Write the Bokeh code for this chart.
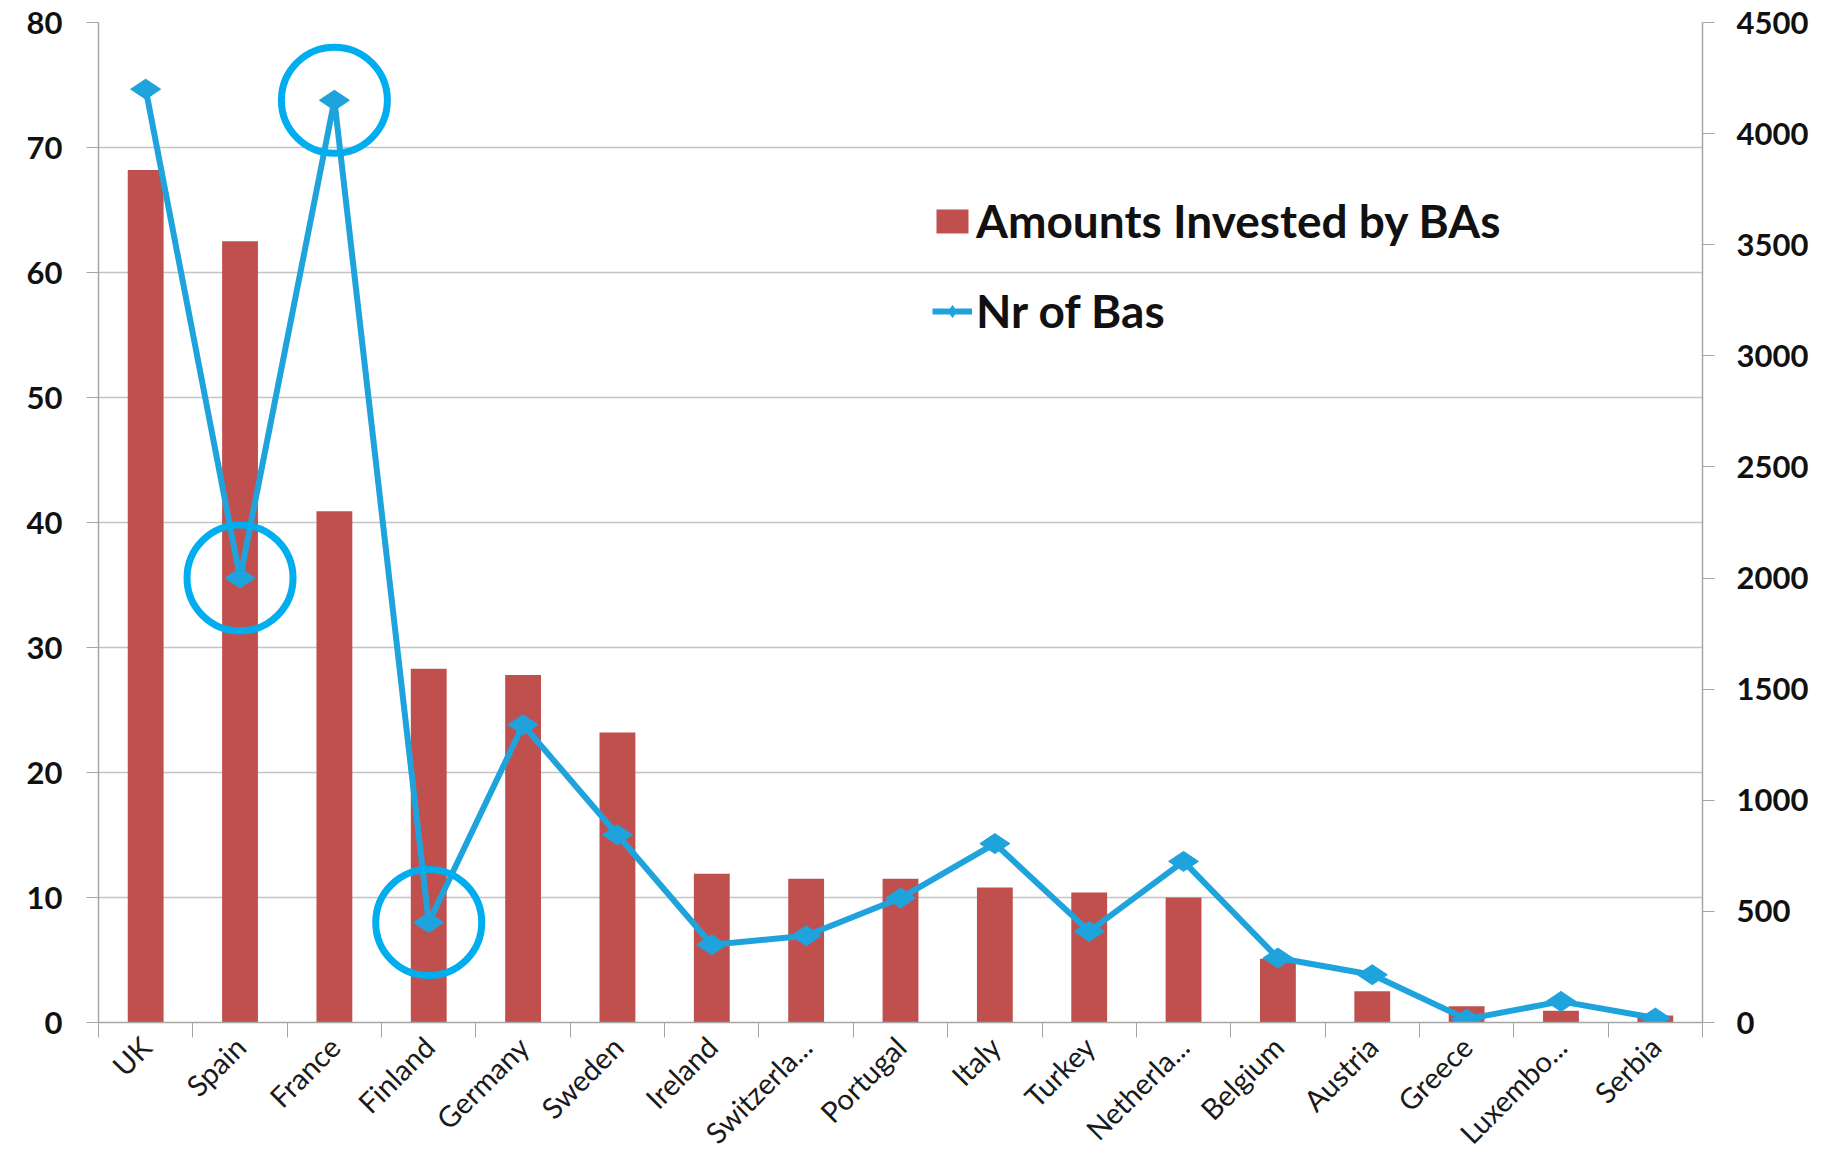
import math
from bokeh.plotting import figure
from bokeh.models import (Range1d, LinearAxis, FixedTicker, Legend, LegendItem,
                          ColumnDataSource)
from bokeh.embed import file_html
from bokeh.resources import INLINE

# ---------------- data ----------------
categories = ["UK", "Spain", "France", "Finland", "Germany", "Sweden", "Ireland",
              "Switzerla...", "Portugal", "Italy", "Turkey", "Netherla...",
              "Belgium", "Austria", "Greece", "Luxembo...", "Serbia"]
amounts = [68.2, 62.5, 40.9, 28.3, 27.8, 23.2, 11.9, 11.5, 11.5, 10.8, 10.4,
           10.0, 5.1, 2.5, 1.3, 0.95, 0.56]
nr_bas = [4200, 2000, 4150, 450, 1340, 845, 350, 390, 560, 805, 410, 725,
          290, 215, 15, 95, 20]
highlighted = ["Spain", "France", "Finland"]
left_ticks = [0, 10, 20, 30, 40, 50, 60, 70, 80]
right_ticks = [0, 500, 1000, 1500, 2000, 2500, 3000, 3500, 4000, 4500]
series_names = ["Amounts Invested by BAs", "Nr of Bas"]

# ---------------- styles ----------------
BAR = "#C0504D"
LINE = "#1FA3DD"
CIRC = "#00AEEF"
GRID = "#C4C4C4"
AXIS = "#A6A6A6"
FONT = "Lato"

idx = list(range(len(categories)))
src = ColumnDataSource(dict(x=idx, amt=amounts, nr=nr_bas))
hx = [categories.index(c) for c in highlighted]
hsrc = ColumnDataSource(dict(x=hx, nr=[nr_bas[i] for i in hx]))

p = figure(width=1832, height=1165,
           x_range=Range1d(-0.5, len(categories) - 0.5),
           y_range=Range1d(left_ticks[0], left_ticks[-1]),
           output_backend="svg", toolbar_location=None,
           min_border_left=98, min_border_right=130,
           min_border_top=22, min_border_bottom=132)
p.extra_y_ranges = {"right": Range1d(right_ticks[0], right_ticks[-1])}
p.outline_line_color = None
p.background_fill_color = "white"
p.border_fill_color = "white"

bars = p.vbar(x="x", top="amt", width=0.38, source=src,
              fill_color=BAR, line_color=None)
line = p.line(x="x", y="nr", source=src, y_range_name="right",
              line_color=LINE, line_width=6)
marks = p.scatter(x="x", y="nr", source=src, y_range_name="right",
                  marker="diamond", angle=math.pi / 2, size=30,
                  fill_color=LINE, line_color=LINE)
p.scatter(x="x", y="nr", source=hsrc, y_range_name="right",
          marker="circle", size=106, fill_color=None,
          line_color=CIRC, line_width=7)

# x axis: labels at category centres, ticks between categories
xa = p.xaxis[0]
xa.ticker = FixedTicker(ticks=idx,
                        minor_ticks=[i - 0.5 for i in range(len(categories) + 1)])
xa.major_label_overrides = {i: c for i, c in zip(idx, categories)}
xa.major_label_orientation = math.pi / 4
xa.major_tick_out = 0
xa.major_tick_in = 0
xa.minor_tick_out = 15
xa.minor_tick_in = 0
xa.minor_tick_line_color = AXIS
xa.axis_line_color = AXIS
xa.axis_line_width = 1.5
xa.major_label_standoff = 4
xa.major_label_text_font = FONT
xa.major_label_text_font_size = "29px"
xa.major_label_text_color = "#1a1a1a"

# left axis
ya = p.yaxis[0]
ya.ticker = FixedTicker(ticks=left_ticks)
ya.axis_line_color = AXIS
ya.axis_line_width = 1.5
ya.major_tick_out = 12
ya.major_tick_in = 0
ya.major_tick_line_color = AXIS
ya.minor_tick_line_color = None
ya.major_label_standoff = 24
ya.major_label_text_font = FONT
ya.major_label_text_font_style = "bold"
ya.major_label_text_font_size = "31px"
ya.major_label_text_color = "#111111"

# right axis
ra = LinearAxis(y_range_name="right", ticker=FixedTicker(ticks=right_ticks))
ra.axis_line_color = AXIS
ra.axis_line_width = 1.5
ra.major_tick_out = 12
ra.major_tick_in = 0
ra.major_tick_line_color = AXIS
ra.minor_tick_line_color = None
ra.major_label_standoff = 22
ra.major_label_text_font = FONT
ra.major_label_text_font_style = "bold"
ra.major_label_text_font_size = "31px"
ra.major_label_text_color = "#111111"
p.add_layout(ra, "right")

p.xgrid.visible = False
p.ygrid.grid_line_color = GRID
p.ygrid.grid_line_width = 1.5

legend = Legend(items=[LegendItem(label=series_names[0], renderers=[bars]),
                       LegendItem(label=series_names[1], renderers=[line, marks])],
                location=(834, 684), orientation="vertical",
                background_fill_alpha=0, border_line_alpha=0,
                padding=0, margin=0, spacing=35,
                glyph_width=40, glyph_height=30, label_standoff=4,
                label_text_font=FONT, label_text_font_style="bold",
                label_text_font_size="46px", label_text_color="#111111")
p.add_layout(legend)

open("out.html", "w").write(file_html(p, INLINE))
